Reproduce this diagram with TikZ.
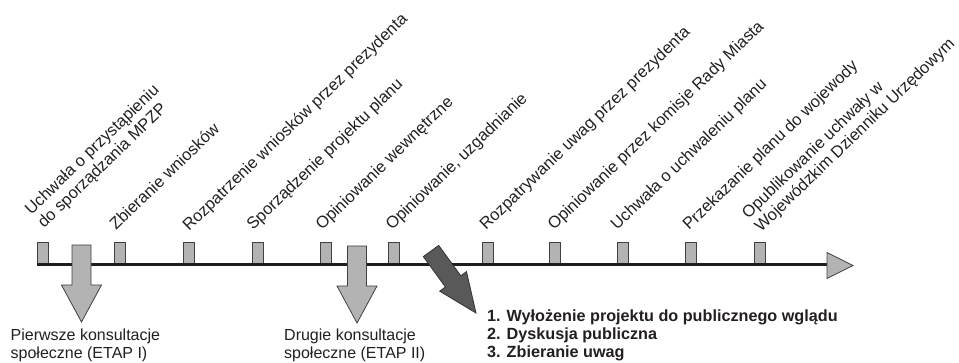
\documentclass[tikz,border=0pt]{standalone}
\usepackage{fontspec}
\setmainfont{Liberation Sans}
\definecolor{boxfill}{RGB}{179,179,179}
\definecolor{edgegray}{RGB}{64,64,64}
\definecolor{darkfill}{RGB}{89,89,89}
\definecolor{darkedge}{RGB}{51,51,51}
\definecolor{axiscol}{RGB}{30,30,30}
\definecolor{txt}{RGB}{35,31,32}
\tikzset{
  stepbox/.style={draw=edgegray, fill=boxfill, line width=0.8pt, minimum width=11pt, minimum height=21pt, inner sep=0pt, anchor=south},
  steplabel/.style={rotate=44, inner sep=0pt, text=txt, font=\fontsize{16.5}{18.5}\selectfont, anchor=base west},
  bottomtext/.style={inner sep=0pt, anchor=north west, text=txt, align=left, font=\fontsize{16}{18}\selectfont},
  boldtext/.style={inner sep=0pt, anchor=north west, text=txt, align=left, font=\fontsize{16.2}{18}\selectfont\bfseries},
  bigdown/.pic={
    \draw[draw=edgegray, fill=boxfill, line width=0.8pt, line join=miter]
      (-9.5,0) -- (9.5,0) -- (9.5,40) -- (20,40) -- (0,77) -- (-20,40) -- (-9.5,40) -- cycle;
  }
}
\begin{document}
\begin{tikzpicture}[x=1pt,y=-1pt]
\useasboundingbox (0,0) rectangle (959,363);

% step boxes
\foreach \n/\cx in {1/42.5,2/119.5,3/189,4/258,5/326,6/394,7/487.5,8/555,9/623,10/691,11/760}{
  \node[stepbox] (r\n) at (\cx,264) {};
}

% axis
\coordinate (axisStart) at (37,265);
\coordinate (axisEnd) at (827,265);
\draw[axiscol, line width=3pt] (axisStart) -- (axisEnd);
\draw[draw=edgegray, fill=boxfill, line width=0.8pt, line join=miter]
  (827,252.5) -- (853,265.5) -- (827,278.5) -- cycle;

% rotated labels
\node[steplabel] (l1) at (44,229) {\begin{tabular}[b]{@{}l@{}}Uchwała o przystąpieniu\\do sporządzania MPZP\end{tabular}};
\node[steplabel] (l2) at (116,231) {Zbieranie wniosków};
\node[steplabel] (l3) at (189,232) {Rozpatrzenie wniosków przez prezydenta};
\node[steplabel] (l4) at (253,231) {Sporządzenie projektu planu};
\node[steplabel] (l5) at (322,231) {Opiniowanie wewnętrzne};
\node[steplabel] (l6) at (392,231) {Opiniowanie, uzgadnianie};
\node[steplabel] (l7) at (486,231) {Rozpatrywanie uwag przez prezydenta};
\node[steplabel] (l8) at (554,231) {Opiniowanie przez komisje Rady Miasta};
\node[steplabel] (l9) at (617,231) {Uchwała o uchwaleniu planu};
\node[steplabel] (l10) at (689,231) {Przekazanie planu do wojewody};
\node[steplabel] (l11) at (761,233) {\begin{tabular}[b]{@{}l@{}}Opublikowanie uchwały w\\Wojewódzkim Dzienniku Urzędowym\end{tabular}};

% consultation arrows
\pic at (81.5,245) {bigdown};
\pic at (357,246) {bigdown};

% dark arrow
\draw[draw=darkedge, fill=darkfill, line width=0.8pt, line join=miter]
  (438.7,245.4) -- (460.8,275.8) -- (466.5,271.6) -- (476,313) -- (439.7,291.2) -- (445.4,287.0) -- (423.3,256.6) -- cycle;

% bottom texts
\node[bottomtext] (etap1) at (10.5,328.8) {Pierwsze konsultacje\\społeczne (ETAP I)};
\node[bottomtext] (etap2) at (284,328.8) {Drugie konsultacje\\społeczne (ETAP II)};
\node[boldtext] (steps) at (487,310) {1. Wyłożenie projektu do publicznego wglądu\\2. Dyskusja publiczna\\3. Zbieranie uwag};
\end{tikzpicture}
\end{document}
